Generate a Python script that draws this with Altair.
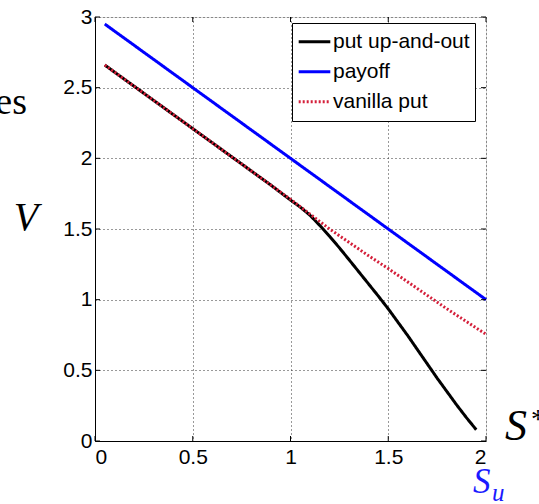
import altair as alt
import pandas as pd

# ---- data ----
series_names = ["put up-and-out", "payoff", "vanilla put"]
series_colors = ["#000000", "#0000ff", "#d41f3a"]

S_payoff = [0.05, 0.5, 1.0, 1.5, 2.0]
V_payoff = [2.95, 2.5, 2.0, 1.5, 1.0]

S_vanilla = [0.05, 0.1, 0.2, 0.3, 0.4, 0.5, 0.6, 0.7, 0.8, 0.9, 1.0,
             1.1, 1.2, 1.3, 1.4, 1.5, 1.6, 1.7, 1.8, 1.9, 2.0]
V_vanilla = [2.66, 2.61, 2.51, 2.41, 2.31, 2.21, 2.11, 2.01, 1.91, 1.81, 1.71,
             1.605, 1.50, 1.405, 1.31, 1.22, 1.125, 1.03, 0.935, 0.845, 0.755]

S_barrier = [0.05, 0.1, 0.2, 0.3, 0.4, 0.5, 0.6, 0.7, 0.8, 0.9, 1.0,
             1.05, 1.1, 1.15, 1.2, 1.25, 1.3, 1.35, 1.4, 1.45, 1.5,
             1.55, 1.6, 1.65, 1.7, 1.75, 1.8, 1.85, 1.9, 1.95]
V_barrier = [2.66, 2.61, 2.51, 2.41, 2.31, 2.21, 2.11, 2.01, 1.91, 1.81, 1.705,
             1.655, 1.597, 1.525, 1.448, 1.367, 1.282, 1.196, 1.11, 1.024, 0.935,
             0.84, 0.745, 0.645, 0.545, 0.445, 0.35, 0.255, 0.165, 0.08]

x_ticks = [0, 0.5, 1, 1.5, 2]
y_ticks = [0, 0.5, 1, 1.5, 2, 2.5, 3]

W, H = 391, 424
FONT = "Liberation Sans"
SERIF = "Liberation Serif"

df = pd.concat([
    pd.DataFrame({"S": S_barrier, "V": V_barrier, "series": series_names[0]}),
    pd.DataFrame({"S": S_payoff, "V": V_payoff, "series": series_names[1]}),
    pd.DataFrame({"S": S_vanilla, "V": V_vanilla, "series": series_names[2]}),
])

xs = alt.Scale(domain=[0, 2], nice=False, zero=False)
ys = alt.Scale(domain=[0, 3], nice=False, zero=False)

color = alt.Color("series:N",
                  scale=alt.Scale(domain=series_names, range=series_colors),
                  legend=alt.Legend(title=None, orient="none", legendX=197, legendY=6,
                                    symbolType="stroke", symbolSize=1000,
                                    symbolStrokeWidth=3, labelFont=FONT,
                                    labelFontSize=21, labelColor="black",
                                    labelOffset=1, rowPadding=2, padding=5,
                                    clipHeight=27.5,
                                    strokeColor="black", fillColor="white",
                                    cornerRadius=0, symbolOffset=0))
dash = alt.StrokeDash("series:N",
                      scale=alt.Scale(domain=series_names, range=[[1, 0], [1, 0], [2, 2]]),
                      legend=None)

x_enc = alt.X("S:Q", scale=xs,
              axis=alt.Axis(values=x_ticks, title=None, format="~g", grid=True,
                            gridDash=[1, 3], gridColor="#333", gridOpacity=1,
                            labelFont=FONT, labelFontSize=21, labelColor="black",
                            labelPadding=5, tickSize=0, domainColor="black"))
y_enc = alt.Y("V:Q", scale=ys,
              axis=alt.Axis(values=y_ticks, title=None, format="~g", grid=True,
                            gridDash=[1, 3], gridColor="#333", gridOpacity=1,
                            labelFont=FONT, labelFontSize=21, labelColor="black",
                            labelPadding=3, tickSize=0, domainColor="black"))

def line_layer(name):
    return alt.Chart(df).transform_filter(alt.datum.series == name).mark_line(
        strokeWidth=3, clip=False).encode(x=x_enc, y=y_enc, color=color, strokeDash=dash)

lines = [line_layer(n) for n in series_names]

# inner ticks (MATLAB style)
xt = pd.DataFrame({"S": x_ticks})
yt = pd.DataFrame({"V": y_ticks})
tick_b = alt.Chart(xt).mark_rule(color="black", strokeWidth=1).encode(
    x=alt.X("S:Q", scale=xs), y=alt.value(H), y2=alt.value(H - 5))
tick_t = alt.Chart(xt).mark_rule(color="black", strokeWidth=1).encode(
    x=alt.X("S:Q", scale=xs), y=alt.value(0), y2=alt.value(5))
tick_l = alt.Chart(yt).mark_rule(color="black", strokeWidth=1).encode(
    y=alt.Y("V:Q", scale=ys), x=alt.value(0), x2=alt.value(5))
tick_r = alt.Chart(yt).mark_rule(color="black", strokeWidth=1).encode(
    y=alt.Y("V:Q", scale=ys), x=alt.value(W), x2=alt.value(W - 5))

def label(text, x, y, size, font=SERIF, style="normal", col="black", align="left"):
    return alt.Chart(pd.DataFrame({"t": [text]})).mark_text(
        font=font, fontSize=size, fontStyle=style, color=col, align=align,
        baseline="alphabetic").encode(text="t:N", x=alt.value(x), y=alt.value(y))

texts = [
    label("es", -68, 97, 38, align="right"),
    label("V", -69, 213, 40, style="italic", align="center"),
    label("S", 410, 423, 44, style="italic"),
    label("*", 436, 411, 28),
    label("S", 378, 476, 35, style="italic", col="#1a1aff"),
    label("u", 397, 484, 25, style="italic", col="#1a1aff"),
]

chart = alt.layer(*lines, tick_b, tick_t, tick_l, tick_r, *texts).properties(
    width=W, height=H,
    autosize=alt.AutoSizeParams(type="none"),
    padding={"left": 95, "top": 17, "right": 53, "bottom": 63},
).configure_view(stroke="black", strokeWidth=1).configure(background="white")

chart.save("out.html", embed_options={"renderer": "svg", "actions": False})
